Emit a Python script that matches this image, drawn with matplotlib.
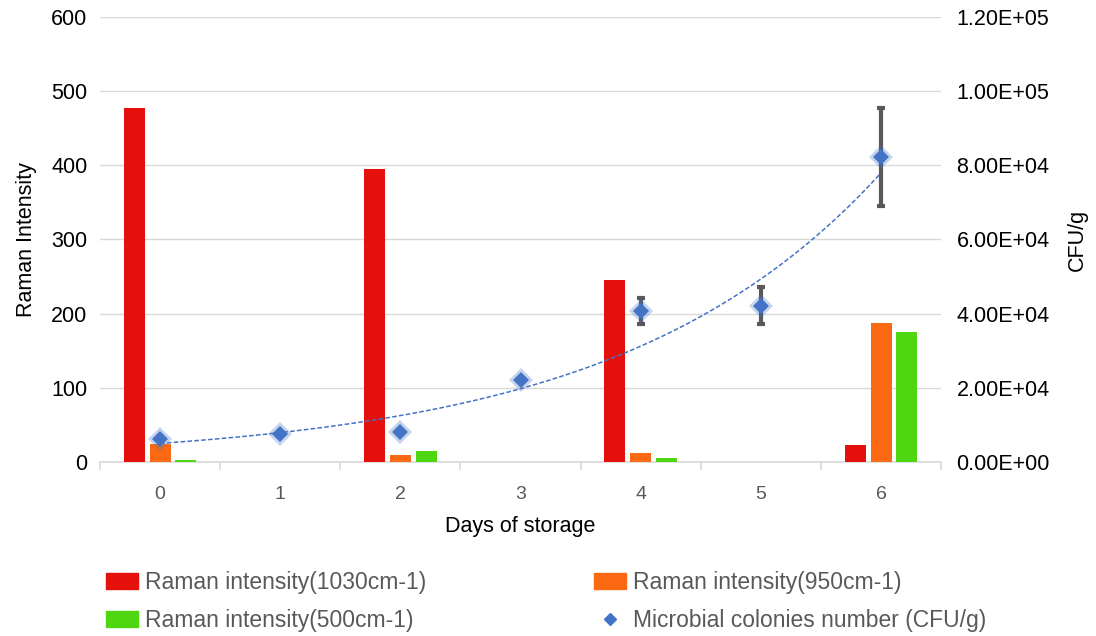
import numpy as np
import matplotlib.pyplot as plt
import matplotlib.ticker as mticker
from matplotlib.lines import Line2D
from matplotlib.patches import Patch

plt.rcParams['font.family'] = ['Liberation Sans', 'DejaVu Sans']

# data
days = [0, 1, 2, 3, 4, 5, 6]
bar_days = [0, 2, 4, 6]
raman_1030 = [477, 395, 245, 23]
raman_950 = [24, 10, 12, 187]
raman_500 = [3, 15, 5, 175]
cfu = [6200, 7550, 8100, 22100, 40700, 42100, 82200]
cfu_err = [0, 0, 0, 0, 3400, 5000, 13200]

c_red = '#E50F0B'
c_orange = '#FB6A12'
c_green = '#4ED711'
c_blue = '#4472C4'
c_text = '#595959'
c_grid = '#D9D9D9'

fig = plt.figure(figsize=(10.96, 6.36), dpi=100)
ax = fig.add_axes([0.0912, 0.2736, 0.7675, 0.6997])
ax2 = ax.twinx()

x = np.array(bar_days)
w = 0.175
off = 0.215
ax.bar(x - off, raman_1030, w, color=c_red, zorder=3)
ax.bar(x, raman_950, w, color=c_orange, zorder=3)
ax.bar(x + off, raman_500, w, color=c_green, zorder=3)

ax.set_xlim(-0.5, 6.5)
ax.set_ylim(0, 600)
ax.set_yticks(range(0, 601, 100))
ax.yaxis.grid(True, color=c_grid, lw=1)
ax.set_axisbelow(True)
ax.set_xticks(days)
ax.set_xticks(np.arange(-0.5, 7, 1), minor=True)
ax.tick_params(axis='x', which='major', length=0, labelsize=14, colors=c_text, pad=17)
ax.tick_params(axis='x', which='minor', length=6, color=c_grid, width=1.2)
ax.tick_params(axis='y', length=0, labelsize=15.5, colors='black', pad=9)
for s in ['top', 'left', 'right']:
    ax.spines[s].set_visible(False)
ax.spines['bottom'].set_color(c_grid)
ax.spines['bottom'].set_linewidth(1.2)
ax.set_xlabel('Days of storage', fontsize=15.5, color='black', labelpad=10)
ax.set_ylabel('Raman Intensity', fontsize=15.5, color='black', labelpad=10)

# exponential trendline fitted to the colony counts
b, lna = np.polyfit(days, np.log(cfu), 1)
xt = np.linspace(0, 6, 200)
ax2.plot(xt, np.exp(lna) * np.exp(b * xt), ls=(0, (3, 1.5)), color=c_blue, lw=1.1, zorder=3)
ax2.errorbar(days, cfu, yerr=[e if e else np.nan for e in cfu_err], fmt='none',
             ecolor='#595959', elinewidth=3, capsize=3, capthick=3, zorder=4)
ax2.plot(days, cfu, 'D', ms=12, color=c_blue, alpha=0.3, mew=0, zorder=5)
ax2.plot(days, cfu, 'D', ms=8.5, color=c_blue, mew=0, zorder=6)

ax2.set_ylim(0, 1.2e5)
ax2.set_yticks(np.arange(0, 1.21e5, 2e4))
ax2.yaxis.set_major_formatter(mticker.FuncFormatter(lambda v, p: '{:.2E}'.format(v)))
ax2.tick_params(axis='y', length=0, labelsize=15.5, colors='black', pad=11)
for s in ax2.spines.values():
    s.set_visible(False)
ax2.set_ylabel('CFU/g', fontsize=15.5, color='black', labelpad=12)

# legend: row 1 red / orange, row 2 green / blue
handles = [Patch(color=c_red), Patch(color=c_green), Patch(color=c_orange),
           Line2D([], [], ls='none', marker='D', ms=6.5, color=c_blue)]
labels = ['Raman intensity(1030cm-1)', 'Raman intensity(500cm-1)',
          'Raman intensity(950cm-1)', 'Microbial colonies number (CFU/g)']
leg = fig.legend(handles, labels, ncol=2, loc='lower left', bbox_to_anchor=(0.0776, -0.026),
                 frameon=False, fontsize=16.5, labelcolor=c_text, columnspacing=7.33,
                 handlelength=1.4, handleheight=0.65, handletextpad=0.3, labelspacing=0.65)

fig.savefig('out.png', dpi=100)
